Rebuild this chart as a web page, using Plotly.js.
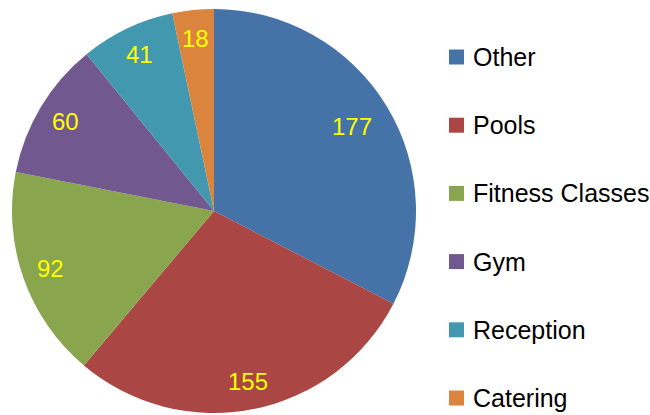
<!DOCTYPE html>
<html><head><meta charset="utf-8">
<script src="https://cdn.plot.ly/plotly-3.0.1.min.js"></script>
<style>html,body{margin:0;padding:0;background:#fff}#chart{width:650px;height:415px}</style>
</head><body><div id="chart"></div>
<script>
const categories = ["Other", "Pools", "Fitness Classes", "Gym", "Reception", "Catering"];
const values = [177, 155, 92, 60, 41, 18];
const colors = ["#4572A7", "#AA4643", "#89A54E", "#71588F", "#4198AF", "#DB843D"];

const W = 650, H = 415;
const cx = 214, cy = 211, R = 202;       // pixel layout of the pie
const dom = {x: [(cx - R) / W, (cx + R) / W], y: [(H - cy - R) / H, (H - cy + R) / H]};

const total = values.reduce((a, b) => a + b, 0);
const annotations = [];
const shapes = [];
let cum = 0;
values.forEach((v, i) => {
  const th = 2 * Math.PI * (cum + v / 2) / total;
  cum += v;
  const rl = (i === 0 ? 0.8 : 0.86) * R;
  annotations.push({
    xref: 'paper', yref: 'paper', showarrow: false,
    x: (cx + rl * Math.sin(th)) / W, y: (H - cy + rl * Math.cos(th)) / H,
    xanchor: 'center', yanchor: 'middle',
    text: String(v), font: {family: 'Liberation Sans, Arial, sans-serif', size: 24, color: '#FFFF00'}
  });
});
categories.forEach((c, i) => {
  const yc = 57 + i * 68.2;
  shapes.push({type: 'rect', xref: 'paper', yref: 'paper',
    x0: 449 / W, x1: 464 / W, y0: (H - yc - 7.5) / H, y1: (H - yc + 7.5) / H,
    fillcolor: colors[i], line: {width: 0}});
  annotations.push({xref: 'paper', yref: 'paper', showarrow: false,
    x: 471 / W, y: (H - yc) / H, xanchor: 'left', yanchor: 'middle',
    text: c, font: {family: 'Liberation Sans, Arial, sans-serif', size: 25, color: '#000'}});
});

Plotly.newPlot('chart', [{
  type: 'pie', labels: categories, values: values,
  marker: {colors: colors, line: {width: 0}},
  sort: false, direction: 'clockwise', rotation: 0,
  textinfo: 'none', hoverinfo: 'label+value',
  domain: dom
}], {
  width: W, height: H, margin: {l: 0, r: 0, t: 0, b: 0},
  showlegend: false, paper_bgcolor: '#fff',
  annotations: annotations, shapes: shapes
}, {displayModeBar: false, staticPlot: true});
</script></body></html>
